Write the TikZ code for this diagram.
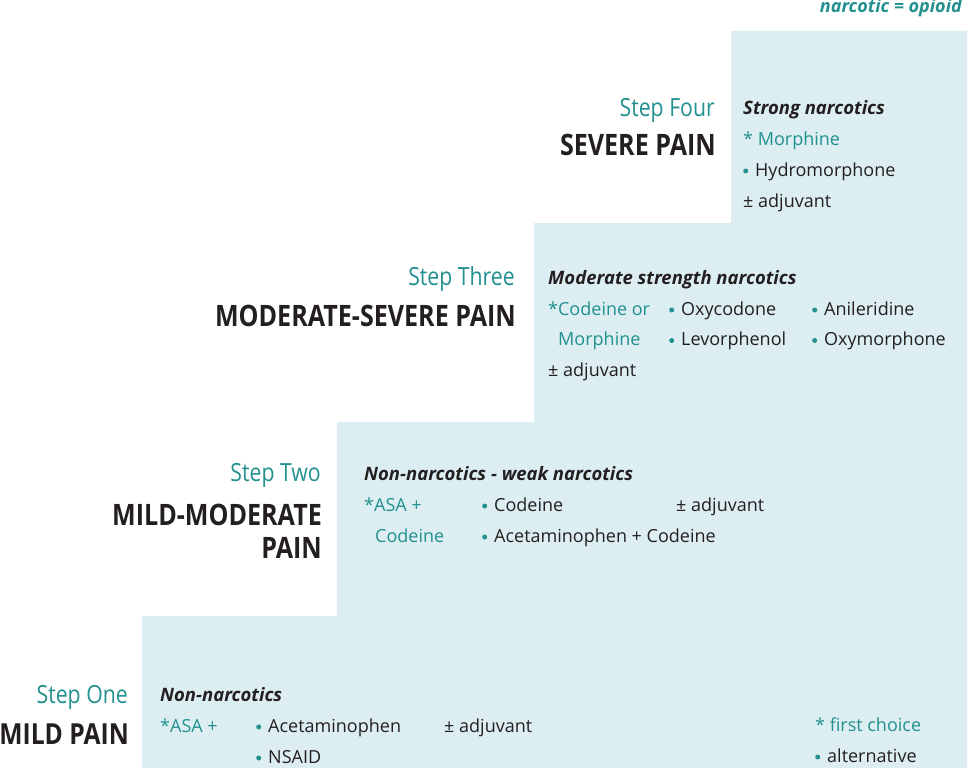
\documentclass[tikz,border=0pt]{standalone}
\usepackage{fontspec}
\setmainfont{Open Sans}
\newfontfamily\stepfont[FakeStretch=0.85]{Open Sans}
\newfontfamily\painfont[FakeStretch=0.85]{Open Sans}
\definecolor{teal}{HTML}{21908F}
\definecolor{stairfill}{HTML}{DDEEF2}
\definecolor{ink}{HTML}{231F20}
\newcommand{\bul}{\tikz[baseline=0pt]\fill[teal] (2.5pt,5pt) circle (2.5pt);\hspace{7pt}}
\tikzset{
  body/.style={anchor=base west, inner sep=0pt, text=ink, font=\fontsize{18}{20}\selectfont},
  first/.style={body, text=teal},
  head/.style={body, font=\fontsize{18.5}{20}\selectfont\bfseries\itshape},
  steplbl/.style={anchor=base east, inner sep=0pt, text=teal, font=\stepfont\fontsize{25}{28}\selectfont},
  painlbl/.style={anchor=base east, inner sep=0pt, text=ink, font=\painfont\bfseries\fontsize{29.5}{32}\selectfont},
}
\begin{document}
\begin{tikzpicture}[x=1pt,y=-1pt]
\useasboundingbox (0,0) rectangle (967,768);
\fill[stairfill] (142,768) -- (142,616) -- (337,616) -- (337,422) -- (534,422) -- (534,223) -- (731,223) -- (731,31) -- (967,31) -- (967,768) -- cycle;

\node[anchor=base east, inner sep=0pt, text=teal, font=\fontsize{18}{20}\selectfont\bfseries\itshape] (legend) at (962,12.5) {narcotic = opioid};

% Step Four
\node[steplbl] (s4) at (715,116.5) {Step Four};
\node[painlbl] (p4) at (716,155) {SEVERE PAIN};
\node[head] (h4) at (743,114) {Strong narcotics};
\node[first] (a4) at (743,145) {* Morphine};
\node[body] (b4) at (743,176) {\bul Hydromorphone};
\node[body] (c4) at (743,207) {± adjuvant};

% Step Three
\node[steplbl] (s3) at (515,285.5) {Step Three};
\node[painlbl] (p3) at (516,326) {MODERATE-SEVERE PAIN};
\node[head] (h3) at (548,284) {Moderate strength narcotics};
\node[first] (a3) at (548,315) {*Codeine or};
\node[first] (a3b) at (558,345.5) {Morphine};
\node[body] (b3) at (669,315) {\bul Oxycodone};
\node[body] (b3b) at (669,345.5) {\bul Levorphenol};
\node[body] (d3) at (812,315) {\bul Anileridine};
\node[body] (d3b) at (812,345.5) {\bul Oxymorphone};
\node[body] (c3) at (548,376) {± adjuvant};

% Step Two
\node[steplbl] (s2) at (321,481.5) {Step Two};
\node[painlbl] (p2) at (322,525) {MILD-MODERATE};
\node[painlbl] (p2b) at (322,558) {PAIN};
\node[head] (h2) at (364,480) {Non-narcotics - weak narcotics};
\node[first] (a2) at (364,511) {*ASA +};
\node[first] (a2b) at (375,542) {Codeine};
\node[body] (b2) at (482,511) {\bul Codeine};
\node[body] (b2b) at (482,542) {\bul Acetaminophen + Codeine};
\node[body] (c2) at (676,511) {± adjuvant};

% Step One
\node[steplbl] (s1) at (128,703) {Step One};
\node[painlbl, font=\painfont\bfseries\fontsize{29}{32}\selectfont] (p1) at (129,744) {MILD PAIN};
\node[head] (h1) at (160,701) {Non-narcotics};
\node[first] (a1) at (160,732) {*ASA +};
\node[body] (b1) at (256,732) {\bul Acetaminophen};
\node[body] (b1b) at (256,763) {\bul NSAID};
\node[body] (c1) at (444,732) {± adjuvant};
\node[first] (k1) at (815,731) {* first choice};
\node[body] (k2) at (815,762) {\bul alternative};
\end{tikzpicture}
\end{document}
